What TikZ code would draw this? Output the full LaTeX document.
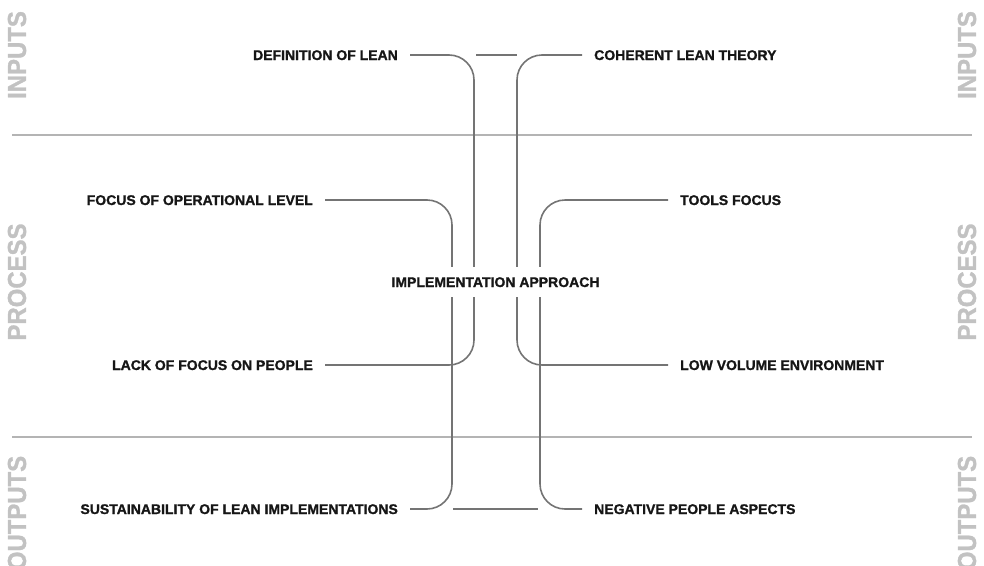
\documentclass[tikz,border=0pt]{standalone}
\usepackage{fontspec}
\setmainfont{Liberation Sans}
\newfontfamily\heavyfont{Liberation Sans}[BoldFeatures={FakeBold=1.2}]
\usepackage{tikz}

\definecolor{linkgray}{HTML}{747474}
\definecolor{rulegray}{HTML}{B4B4B4}
\definecolor{stagegray}{HTML}{C2C2C2}
\definecolor{labelblack}{HTML}{161616}

\begin{document}
\begin{tikzpicture}[x=1pt, y=-1pt,
	lbl/.style={labelblack, font=\heavyfont\bfseries\fontsize{14}{14}\selectfont, inner xsep=12pt, inner ysep=0pt, text height=10pt, text depth=0pt},
	stage/.style={stagegray, rotate=90, inner sep=0pt, font=\heavyfont\bfseries\fontsize{26}{26}\selectfont},
	link/.style={linkgray, line width=1.6pt, rounded corners=25pt},
	band/.style={rulegray, line width=1.1pt}]
	\useasboundingbox (0,0) rectangle (984,565);

	% the three bands
	\draw[band] (12,135) -- (972,135);
	\draw[band] (12,437) -- (972,437);
	\node[stage] (inL) at (17,55) {\scalebox{0.92}[1]{INPUTS}};
	\node[stage] (procL) at (17,282) {\scalebox{0.92}[1]{PROCESS}};
	\node[stage] (outL) at (17,513) {\scalebox{0.92}[1]{OUTPUTS}};
	\node[stage] (inR) at (967,55) {\scalebox{0.92}[1]{INPUTS}};
	\node[stage] (procR) at (967,282) {\scalebox{0.92}[1]{PROCESS}};
	\node[stage] (outR) at (967,513) {\scalebox{0.92}[1]{OUTPUTS}};

	% columns of the four strands
	\coordinate (colA) at (452,0);
	\coordinate (colB) at (474,0);
	\coordinate (colC) at (517,0);
	\coordinate (colD) at (540,0);

	\node[lbl, anchor=east] (def) at (410,55) {DEFINITION OF LEAN};
	\node[lbl, anchor=west] (coh) at (582,55) {COHERENT LEAN THEORY};
	\node[lbl, anchor=east] (opsfocus) at (325,200) {FOCUS OF OPERATIONAL LEVEL};
	\node[lbl, anchor=west] (tools) at (668,200) {TOOLS FOCUS};
	\node[lbl, inner xsep=0pt, inner ysep=10pt] (impl) at (495.5,282) {IMPLEMENTATION APPROACH};
	\node[lbl, anchor=east] (lack) at (325,365) {LACK OF FOCUS ON PEOPLE};
	\node[lbl, anchor=west] (lowvol) at (668,365) {LOW VOLUME ENVIRONMENT};
	\node[lbl, anchor=east] (sust) at (410,509) {SUSTAINABILITY OF LEAN IMPLEMENTATIONS};
	\node[lbl, anchor=west] (negppl) at (582,509) {NEGATIVE PEOPLE ASPECTS};

	% outer strands
	\draw[link] (def.east) -- (def.east -| colB) -- (colB |- impl.north);
	\draw[link] (colB |- impl.south) -- (colB |- lack.east) -- (lack.east);
	\draw[link] (coh.west) -- (coh.west -| colC) -- (colC |- impl.north);
	\draw[link] (colC |- impl.south) -- (colC |- lowvol.west) -- (lowvol.west);

	% inner strands
	\draw[link] (opsfocus.east) -- (opsfocus.east -| colA) -- (colA |- impl.north);
	\draw[link] (colA |- impl.south) -- (colA |- sust.east) -- (sust.east);
	\draw[link] (tools.west) -- (tools.west -| colD) -- (colD |- impl.north);
	\draw[link] (colD |- impl.south) -- (colD |- negppl.west) -- (negppl.west);

	% short bars between the strands
	\draw[link] ([xshift=2pt]def.east -| colB) -- (def.east -| colC);
	\draw[link] ([xshift=1pt]sust.east -| colA) -- ([xshift=-2pt]sust.east -| colD);
\end{tikzpicture}
\end{document}
